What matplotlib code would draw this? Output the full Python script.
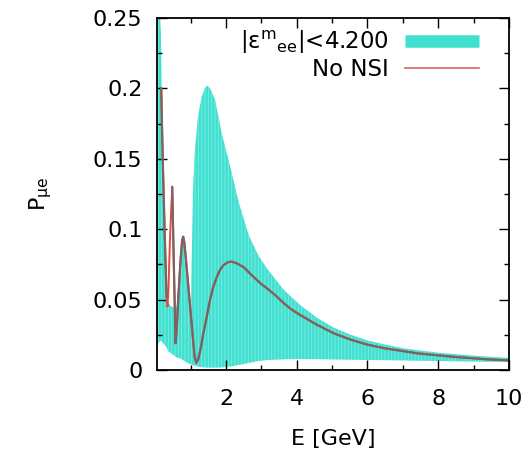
import matplotlib
matplotlib.use("Agg")
import matplotlib.pyplot as plt
from matplotlib.lines import Line2D
from matplotlib.ticker import FixedLocator, FixedFormatter

plt.rcParams['font.family'] = ['DejaVu Sans']
plt.rcParams['mathtext.fontset'] = 'dejavusans'
plt.rcParams['hatch.linewidth'] = 0.6

# ---- data ----
E_band = [0.05, 0.12, 0.16, 0.19, 0.22, 0.26, 0.30, 0.34, 0.38, 0.44, 0.50, 0.55,
          0.60, 0.66, 0.72, 0.79, 0.85, 0.91, 0.97, 1.01, 1.04, 1.07, 1.12, 1.20,
          1.30, 1.40, 1.47, 1.55, 1.69, 1.88, 2.12, 2.35, 2.64, 2.90, 3.16, 3.63,
          4.10, 4.58, 5.05, 5.53, 6.00, 6.50, 7.00, 7.50, 8.00, 8.50, 9.00, 9.50, 10.0]
P_upper = [0.26, 0.26, 0.24, 0.175, 0.142, 0.10, 0.062, 0.050, 0.048, 0.045, 0.045, 0.042,
           0.045, 0.062, 0.085, 0.095, 0.082, 0.068, 0.050, 0.042, 0.090, 0.130, 0.155, 0.178,
           0.193, 0.200, 0.202, 0.200, 0.192, 0.168, 0.1444, 0.120, 0.096, 0.082, 0.072, 0.057,
           0.046, 0.037, 0.030, 0.025, 0.021, 0.018, 0.0155, 0.0138, 0.0123, 0.0112, 0.0102, 0.0093, 0.0086]
P_lower = [0.018, 0.020, 0.021, 0.020, 0.019, 0.018, 0.017, 0.015, 0.013, 0.012, 0.011, 0.010,
           0.009, 0.0085, 0.008, 0.007, 0.006, 0.005, 0.0045, 0.004, 0.0037, 0.0034, 0.003, 0.0025,
           0.002, 0.0018, 0.0017, 0.0017, 0.0017, 0.0018, 0.0025, 0.0035, 0.005, 0.0063, 0.0071, 0.0076,
           0.0078, 0.0077, 0.0075, 0.0073, 0.0071, 0.0070, 0.0068, 0.0066, 0.0064, 0.0062, 0.0060, 0.0058, 0.0057]

E_std = [0.17, 0.19, 0.22, 0.27, 0.32, 0.345, 0.37, 0.42, 0.48, 0.53, 0.575, 0.61, 0.65,
         0.69, 0.73, 0.76, 0.79, 0.82, 0.86, 0.92, 0.99, 1.06, 1.11, 1.16, 1.22, 1.29,
         1.36, 1.45, 1.55, 1.64, 1.74, 1.83, 1.93, 2.05, 2.16, 2.30, 2.50, 2.70, 2.87,
         3.00, 3.16, 3.40, 3.63, 3.85, 4.10, 4.58, 5.05, 5.53, 6.00, 6.47, 7.42, 8.37, 9.31, 10.0]
P_std = [0.200, 0.175, 0.142, 0.095, 0.052, 0.045, 0.055, 0.095, 0.130, 0.070, 0.019, 0.030, 0.050,
         0.068, 0.083, 0.092, 0.0947, 0.091, 0.081, 0.064, 0.044, 0.024, 0.010, 0.005, 0.008, 0.016,
         0.026, 0.037, 0.050, 0.059, 0.066, 0.071, 0.0745, 0.0765, 0.077, 0.0758, 0.073, 0.068, 0.064,
         0.061, 0.058, 0.053, 0.0475, 0.043, 0.039, 0.032, 0.026, 0.0215, 0.018, 0.0155, 0.0118, 0.0095, 0.0077, 0.0068]

band_label = '|ε$^{\\mathregular{m}}$$_{\\mathregular{ee}}$|<4.200'
std_label = 'No NSI'
x_ticks = [2, 4, 6, 8, 10]
x_ticklabels = ['2', '4', '6', '8', '10']
y_ticks = [0, 0.05, 0.1, 0.15, 0.2, 0.25]
y_ticklabels = ['0', '0.05', '0.1', '0.15', '0.2', '0.25']

# ---- figure ----
fig = plt.figure(figsize=(5.30, 4.53), dpi=100)
ax = fig.add_axes([157/530, 1 - 370/453, 352/530, 352/453])

cyan = '#40E0D0'
ax.fill_between(E_band, P_lower, P_upper, facecolor=cyan, edgecolor='#7fece2',
                hatch='|||||', linewidth=0, zorder=1)

# No NSI curve: red line, overdrawn in dark grey-brown except the sharp spike
ax.plot(E_std, P_std, color='#e04a42', lw=1.4, zorder=3)
E_g = [e for e in E_std if not (0.33 < e < 0.48)]
P_g = [p for e, p in zip(E_std, P_std) if not (0.33 < e < 0.48)]
i_split = [i for i, e in enumerate(E_g) if e >= 0.48][0]
ax.plot(E_g[:i_split], P_g[:i_split], color='#7d6360', lw=1.6, zorder=4)
ax.plot(E_g[i_split:], P_g[i_split:], color='#7d6360', lw=1.6, zorder=4)

ax.set_xlim(0.05, 10)
ax.set_ylim(0, 0.25)

ax.xaxis.set_major_locator(FixedLocator(x_ticks))
ax.xaxis.set_major_formatter(FixedFormatter(x_ticklabels))
ax.xaxis.set_minor_locator(FixedLocator([1, 3, 5, 7, 9]))
ax.yaxis.set_major_locator(FixedLocator(y_ticks))
ax.yaxis.set_major_formatter(FixedFormatter(y_ticklabels))
ax.yaxis.set_minor_locator(FixedLocator([0.025, 0.075, 0.125, 0.175, 0.225]))

ax.tick_params(which='both', direction='in', top=True, right=True, labelsize=16,
               width=1.0, colors='black')
ax.tick_params(which='major', length=7)
ax.tick_params(which='minor', length=3.5)
ax.tick_params(axis='y', which='major', pad=10.5)
ax.tick_params(axis='x', which='major', pad=14)
for s in ax.spines.values():
    s.set_linewidth(1.3)
    s.set_zorder(6)

ax.set_xlabel('E [GeV]', fontsize=16, labelpad=14)
ax.set_ylabel('P$_{\\mathregular{μe}}$', fontsize=16, labelpad=28)

handles = [Line2D([], [], color=cyan, lw=9, solid_capstyle='butt'),
           Line2D([], [], color='#e06060', lw=1.2)]
leg = ax.legend(handles, [band_label, std_label], loc='upper right',
                bbox_to_anchor=(0.915, 0.97), markerfirst=False, frameon=False,
                fontsize=16.5, handlelength=3.25, handletextpad=0.7,
                borderaxespad=0, borderpad=0, labelspacing=0.08)
for t in leg.get_texts():
    t.set_ha('right')

fig.savefig('out.png', dpi=100)
